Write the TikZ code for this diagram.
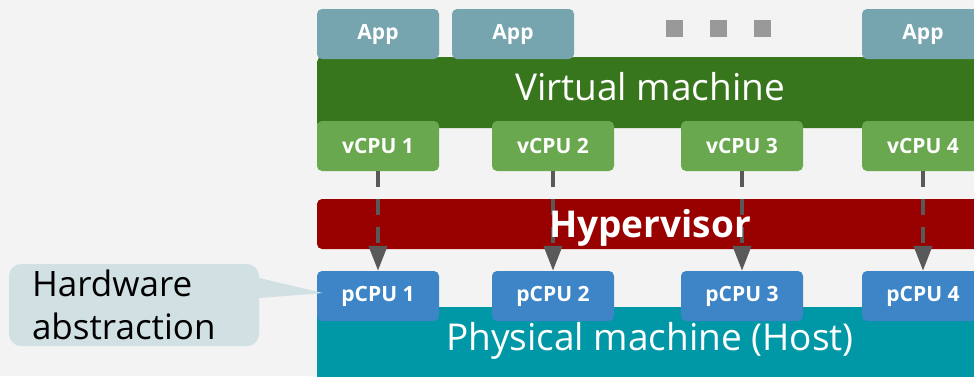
\documentclass[tikz,border=0pt]{standalone}
\usepackage{fontspec}
\setmainfont{Open Sans}
\usepackage{tikz}
\usetikzlibrary{arrows.meta,positioning}
\definecolor{BgGray}{HTML}{F3F3F3}
\definecolor{AppTeal}{HTML}{76A5AF}
\definecolor{VMGreen}{HTML}{38761D}
\definecolor{VCPUGreen}{HTML}{6AA84F}
\definecolor{HVRed}{HTML}{990000}
\definecolor{PCPUBlue}{HTML}{3D85C6}
\definecolor{HostCyan}{HTML}{0097A7}
\definecolor{NoteBlue}{HTML}{D0E0E3}
\definecolor{ArrowGray}{HTML}{595959}
\definecolor{DotGray}{HTML}{999999}
\tikzset{
  cpubox/.style={rounded corners=5pt, minimum width=122pt, minimum height=50pt, inner sep=0pt, text=white, font=\fontsize{21}{25}\selectfont\bfseries},
  bigtext/.style={text=white, font=\fontsize{37}{44}\selectfont, anchor=base},
  maparrow/.style={ArrowGray, line width=4pt, dash pattern=on 16pt off 12pt, -{Triangle[length=25pt,width=18pt]}},
  notebox/.style={fill=NoteBlue, rounded corners=12pt, minimum width=250pt, minimum height=82pt, text width=204pt, inner xsep=23pt, align=left, font=\fontsize{35}{43}\selectfont}
}

\begin{document}
\begin{tikzpicture}[x=1pt,y=-1pt]
        \fill[BgGray] (0,0) rectangle (974,376);
        \useasboundingbox (0,0) rectangle (974,376);
        \clip (0,0) rectangle (974,376);

        % layers
        \fill[VMGreen, rounded corners=5pt] (317,57) rectangle (1000,128);
        \fill[HVRed, rounded corners=5pt] (317,199) rectangle (1000,249);
        \fill[HostCyan, rounded corners=5pt] (317,307) rectangle (1000,400);

        % apps
        \node[cpubox, fill=AppTeal] (app1) at (378,34) {App};
        \node[cpubox, fill=AppTeal] (app2) at (513,34) {App};
        \node[cpubox, fill=AppTeal] (app3) at (923,34) {App};
        \foreach \x in {666,710,754}
        {
            \fill[DotGray] (\x,20) rectangle ++(17,17);
        }

        % cpus
        \foreach \i/\x in {1/378,2/553,3/742,4/923}
        {
            \node[cpubox, fill=VCPUGreen] (vcpu\i) at (\x,146) {vCPU \i};
            \node[cpubox, fill=PCPUBlue] (pcpu\i) at (\x,296) {pCPU \i};
        }
        \foreach \i in {1,...,4}
        {
            \draw[maparrow] (vcpu\i) -- (pcpu\i);
        }

        \node[bigtext] (vm) at (650,100) {Virtual machine};
        \node[bigtext, font=\fontsize{37}{44}\selectfont\bfseries] (hv) at (650,237) {Hypervisor};
        \node[bigtext] (host) at (650,350) {Physical machine (Host)};

        % callout
        \node[notebox] (note) at (134,305) {Hardware\\abstraction};
        \coordinate (tip) at ([xshift=6pt,yshift=3pt]pcpu1.west);
        \fill[NoteBlue] ([yshift=27pt]note.east) -- (tip) -- ([yshift=7pt]note.east) -- cycle;
        \end{tikzpicture}
\end{document}
